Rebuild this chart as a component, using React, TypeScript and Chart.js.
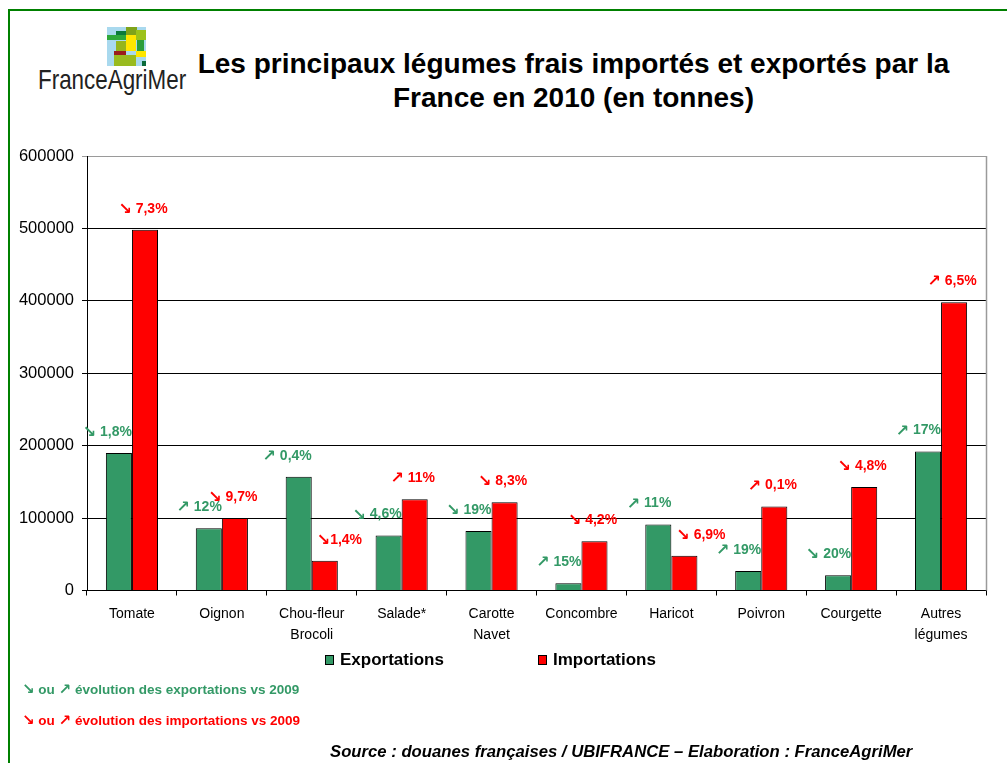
import React, { useEffect, useRef } from "react";
import { Chart, registerables } from "chart.js";

Chart.register(...registerables);

const categories: (string | string[])[] = [
  "Tomate",
  "Oignon",
  ["Chou-fleur", "Brocoli"],
  "Salade*",
  ["Carotte", "Navet"],
  "Concombre",
  "Haricot",
  "Poivron",
  "Courgette",
  ["Autres", "légumes"],
];
const exportations = [190000, 86000, 157000, 76000, 82000, 10000, 91000, 27000, 21000, 192000];
const importations = [498000, 100000, 41000, 126000, 122000, 68000, 48000, 116000, 143000, 398000];
const exportChanges = ["↘ 1,8%", "↗ 12%", "↗ 0,4%", "↘ 4,6%", "↘ 19%", "↗ 15%", "↗ 11%", "↗ 19%", "↘ 20%", "↗ 17%"];
const importChanges = ["↘ 7,3%", "↘ 9,7%", "↘1,4%", "↗ 11%", "↘ 8,3%", "↘ 4,2%", "↘ 6,9%", "↗ 0,1%", "↘ 4,8%", "↗ 6,5%"];
const yMin = 0;
const yMax = 600000;
const yStep = 100000;

const GREEN = "#339966";
const RED = "#FF0000";
const FONT = "'Liberation Sans', Arial, 'DejaVu Sans', sans-serif";
const ARROW_FONT = "bold 16px 'DejaVu Sans'";
const TEXT_FONT = `bold 14px ${FONT}`;

function drawLabel(ctx: any, text: string, x: number, y: number, align: "left" | "right" | "center") {
  const arrow = text.charAt(0);
  const rest = text.slice(1);
  ctx.font = ARROW_FONT;
  const wa = ctx.measureText(arrow).width;
  ctx.font = TEXT_FONT;
  const wr = ctx.measureText(rest).width;
  const total = wa + wr;
  let start = x;
  if (align === "right") start = x - total;
  else if (align === "center") start = x - total / 2;
  ctx.textAlign = "left";
  ctx.textBaseline = "middle";
  ctx.font = ARROW_FONT;
  ctx.fillText(arrow, start, y + 1);
  ctx.font = TEXT_FONT;
  ctx.fillText(rest, start + wa, y);
}

const labelPlugin = {
  id: "changeLabels",
  afterDatasetsDraw(chart: any) {
    const ctx = chart.ctx;
    ctx.save();
    const m0 = chart.getDatasetMeta(0);
    const m1 = chart.getDatasetMeta(1);
    m0.data.forEach((bar: any, i: number) => {
      ctx.fillStyle = GREEN;
      drawLabel(ctx, exportChanges[i], bar.x + bar.width / 2, bar.y - 21, "right");
    });
    m1.data.forEach((bar: any, i: number) => {
      ctx.fillStyle = RED;
      if (exportations[i] > importations[i]) {
        drawLabel(ctx, importChanges[i], bar.x - bar.width / 2 + 5, bar.y - 21, "left");
      } else {
        drawLabel(ctx, importChanges[i], bar.x - 2, bar.y - 21, "center");
      }
    });
    ctx.restore();
  },
  afterDraw(chart: any) {
    const { ctx, chartArea } = chart;
    ctx.save();
    ctx.strokeStyle = "#9a9a9a";
    ctx.lineWidth = 1.5;
    ctx.beginPath();
    ctx.moveTo(chartArea.right + 0.5, chartArea.top);
    ctx.lineTo(chartArea.right + 0.5, chartArea.bottom);
    ctx.stroke();
    ctx.restore();
  },
};

function Logo() {
  const blocks: [number, number, number, number, string][] = [
    [107, 27, 39, 39, "#a9d9ee"],
    [126, 27, 11, 8, "#7fa31a"],
    [116, 31, 10, 5, "#0a7a3a"],
    [107, 35, 19, 5, "#2ea83a"],
    [126, 35, 10, 16, "#ffe600"],
    [136, 30, 10, 10, "#9cc21a"],
    [137, 40, 7, 11, "#2a9d3a"],
    [116, 41, 10, 10, "#95b51c"],
    [114, 51, 12, 4, "#9b1c1c"],
    [136, 51, 10, 6, "#ffe600"],
    [114, 55, 22, 11, "#99bb1f"],
    [142, 61, 4, 5, "#0a6a3a"],
  ];
  return (
    <>
      {blocks.map((b, i) => (
        <div key={i} style={{ position: "absolute", left: b[0], top: b[1], width: b[2], height: b[3], background: b[4] }} />
      ))}
      <div
        style={{
          position: "absolute",
          left: 38,
          top: 65,
          fontFamily: FONT,
          fontSize: 28,
          lineHeight: "30px",
          color: "#222",
          whiteSpace: "nowrap",
          transform: "scaleX(0.8)",
          transformOrigin: "left top",
        }}
      >
        FranceAgriMer
      </div>
    </>
  );
}

const arrowSpan = (a: string) => (
  <span style={{ fontFamily: "'DejaVu Sans'", fontWeight: "bold", fontSize: 15 }}>{a}</span>
);

export default function App() {
  const canvasRef = useRef<HTMLCanvasElement | null>(null);

  useEffect(() => {
    const canvas = canvasRef.current;
    if (!canvas) return;
    const chart = new Chart(canvas, {
      type: "bar",
      data: {
        labels: categories,
        datasets: [
          {
            label: "Exportations",
            data: exportations,
            backgroundColor: GREEN,
            borderColor: "#000",
            borderWidth: 1,
            categoryPercentage: 0.58,
            barPercentage: 1,
          },
          {
            label: "Importations",
            data: importations,
            backgroundColor: RED,
            borderColor: "#000",
            borderWidth: 1,
            categoryPercentage: 0.58,
            barPercentage: 1,
          },
        ],
      },
      options: {
        responsive: false,
        animation: false,
        devicePixelRatio: 1,
        layout: { padding: { left: 0, top: 156, right: 21, bottom: 112.5 } },
        plugins: {
          legend: { display: false },
          title: { display: false },
          tooltip: { enabled: false },
        },
        scales: {
          x: {
            grid: {
              display: true,
              drawOnChartArea: false,
              drawTicks: true,
              tickLength: 5,
              offset: true,
              color: "#000",
            },
            border: { display: true, color: "#000", width: 1 },
            ticks: {
              color: "#000",
              font: { family: FONT, size: 14, lineHeight: 1.5 },
              padding: 8,
              maxRotation: 0,
              autoSkip: false,
            },
            afterFit: (scale: any) => {
              scale.height = 60;
            },
          },
          y: {
            min: yMin,
            max: yMax,
            grid: {
              color: (c: any) => (c.tick && c.tick.value === yMax ? "#9a9a9a" : "#000"),
              lineWidth: 1,
              tickLength: 5,
              drawTicks: true,
            },
            border: { display: true, color: "#000", width: 1 },
            ticks: {
              stepSize: yStep,
              color: "#000",
              font: { family: FONT, size: 16.5 },
              padding: 8,
              callback: (v: any) => String(v),
            },
            afterFit: (scale: any) => {
              scale.width = 87;
            },
          },
        },
      },
      plugins: [labelPlugin],
    });
    return () => chart.destroy();
  }, []);

  return (
    <div style={{ position: "fixed", left: 0, top: 0, width: 1007, height: 763, overflow: "hidden", background: "#fff" }}>
      <div
        style={{
          position: "absolute",
          left: 8,
          top: 9,
          width: 1100,
          height: 900,
          border: "2px solid #008000",
        }}
      />
      <Logo />
      <div
        style={{
          position: "absolute",
          left: 173,
          top: 47,
          width: 801,
          textAlign: "center",
          fontFamily: FONT,
          fontWeight: "bold",
          fontSize: 28,
          lineHeight: "34px",
          color: "#000",
        }}
      >
        Les principaux légumes frais importés et exportés par la
        <br />
        France en 2010 (en tonnes)
      </div>
      <canvas ref={canvasRef} width={1007} height={763} style={{ position: "absolute", left: 0, top: 0 }} />
      {/* legend */}
      <div style={{ position: "absolute", left: 325, top: 655, width: 7, height: 8, background: GREEN, border: "1px solid #000" }} />
      <div style={{ position: "absolute", left: 340, top: 650, fontFamily: FONT, fontWeight: "bold", fontSize: 17, lineHeight: "20px", color: "#000", whiteSpace: "nowrap" }}>
        Exportations
      </div>
      <div style={{ position: "absolute", left: 538, top: 655, width: 7, height: 8, background: RED, border: "1px solid #000" }} />
      <div style={{ position: "absolute", left: 553, top: 650, fontFamily: FONT, fontWeight: "bold", fontSize: 17, lineHeight: "20px", color: "#000", whiteSpace: "nowrap" }}>
        Importations
      </div>
      {/* notes */}
      <div style={{ position: "absolute", left: 22, top: 681, fontFamily: FONT, fontWeight: "bold", fontSize: 13.5, lineHeight: "16px", color: GREEN, whiteSpace: "nowrap" }}>
        {arrowSpan("↘")} ou {arrowSpan("↗")} évolution des exportations vs 2009
      </div>
      <div style={{ position: "absolute", left: 22, top: 712, fontFamily: FONT, fontWeight: "bold", fontSize: 13.5, lineHeight: "16px", color: RED, whiteSpace: "nowrap" }}>
        {arrowSpan("↘")} ou {arrowSpan("↗")} évolution des importations vs 2009
      </div>
      <div style={{ position: "absolute", left: 330, top: 742, fontFamily: FONT, fontWeight: "bold", fontStyle: "italic", fontSize: 16.7, lineHeight: "20px", color: "#000", whiteSpace: "nowrap" }}>
        Source : douanes françaises / UBIFRANCE – Elaboration : FranceAgriMer
      </div>
    </div>
  );
}
